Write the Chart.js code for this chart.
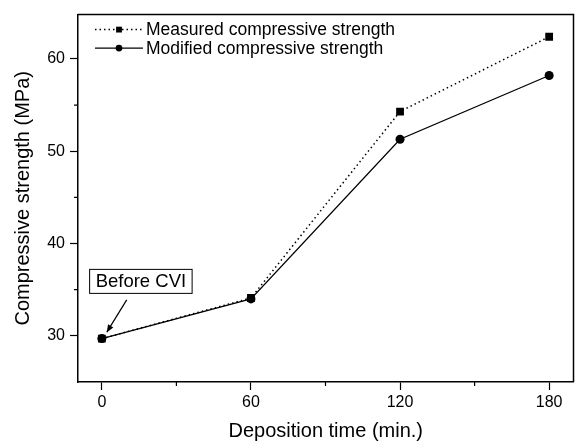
<!DOCTYPE html>
<html>
<head>
<meta charset="utf-8">
<script src="https://cdn.jsdelivr.net/npm/chart.js@4/dist/chart.umd.min.js"></script>
<style>
  html, body { margin: 0; padding: 0; background: #fff; }
  #wrap { width: 579px; height: 445px; }
</style>
</head>
<body>
<div id="wrap"><canvas id="chart" width="579" height="445"></canvas></div>
<script>
const times = [0, 60, 120, 180];
const measured = [29.7, 34.1, 54.3, 62.4];
const modified = [29.7, 34.0, 51.3, 58.2];
const xTicks = [0, 60, 120, 180];
const xMinorTicks = [30, 90, 150];
const yTicks = [30, 40, 50, 60];
const yMinorTicks = [35, 45, 55];
const seriesNames = ['Measured compressive strength', 'Modified compressive strength'];
const noteText = 'Before CVI';
const noteTarget = [0, 29.7];

const FONT = '"Liberation Sans", Arial, Helvetica, sans-serif';
Chart.defaults.font.family = FONT;
Chart.defaults.color = '#000';

const toPoints = ys => ys.map((y, i) => ({ x: times[i], y }));

// box around the plot + minor ticks
const framePlugin = {
  id: 'frame',
  afterDraw(chart) {
    const { ctx, chartArea: a, scales } = chart;
    ctx.save();
    ctx.strokeStyle = '#000';
    ctx.lineWidth = 1.5;
    ctx.beginPath();
    ctx.moveTo(a.left, a.top);
    ctx.lineTo(a.right, a.top);
    ctx.lineTo(a.right, a.bottom);
    ctx.stroke();
    ctx.lineWidth = 1.2;
    ctx.beginPath();
    xMinorTicks.forEach(v => {
      const x = scales.x.getPixelForValue(v);
      ctx.moveTo(x, a.bottom);
      ctx.lineTo(x, a.bottom + 4);
    });
    yMinorTicks.forEach(v => {
      const y = scales.y.getPixelForValue(v);
      ctx.moveTo(a.left - 4, y);
      ctx.lineTo(a.left, y);
    });
    ctx.stroke();
    ctx.restore();
  }
};

// legend inside the plot, top left
const legendPlugin = {
  id: 'innerLegend',
  afterDatasetsDraw(chart) {
    const { ctx, chartArea: a } = chart;
    ctx.save();
    chart.data.datasets.forEach((ds, i) => {
      const y = a.top + 15 + i * 18.5;
      const x0 = a.left + 17, x1 = x0 + 48;
      ctx.strokeStyle = '#000';
      ctx.fillStyle = '#000';
      ctx.lineWidth = ds.borderWidth;
      ctx.setLineDash(ds.borderDash || []);
      ctx.beginPath();
      ctx.moveTo(x0, y);
      ctx.lineTo(x1, y);
      ctx.stroke();
      ctx.setLineDash([]);
      Chart.helpers.drawPoint(ctx, { pointStyle: ds.pointStyle, radius: ds.pointRadius * 0.75, borderWidth: 0 }, (x0 + x1) / 2, y);
      ctx.font = '17.5px ' + FONT;
      ctx.textBaseline = 'middle';
      ctx.textAlign = 'left';
      ctx.fillText(ds.label, x1 + 3, y + 1);
    });
    ctx.restore();
  }
};

// "Before CVI" note with arrow
const notePlugin = {
  id: 'note',
  afterDatasetsDraw(chart) {
    const { ctx, scales } = chart;
    const px = v => scales.x.getPixelForValue(v);
    const py = v => scales.y.getPixelForValue(v);
    ctx.save();
    ctx.font = '18.5px ' + FONT;
    const w = ctx.measureText(noteText).width + 12;
    const h = 24;
    const cx = px(noteTarget[0] + 15.7), cy = py(noteTarget[1] + 6.2);
    ctx.fillStyle = '#fff';
    ctx.strokeStyle = '#000';
    ctx.lineWidth = 1;
    ctx.fillRect(cx - w / 2, cy - h / 2, w, h);
    ctx.strokeRect(cx - w / 2, cy - h / 2, w, h);
    ctx.fillStyle = '#000';
    ctx.textAlign = 'center';
    ctx.textBaseline = 'middle';
    ctx.fillText(noteText, cx, cy + 1);

    const sx = px(noteTarget[0] + 10), sy = py(noteTarget[1] + 4.2);
    const ex = px(noteTarget[0] + 2), ey = py(noteTarget[1] + 0.7);
    const ang = Math.atan2(ey - sy, ex - sx);
    ctx.lineWidth = 1.2;
    ctx.beginPath();
    ctx.moveTo(sx, sy);
    ctx.lineTo(ex, ey);
    ctx.stroke();
    ctx.beginPath();
    ctx.moveTo(ex, ey);
    ctx.lineTo(ex - 8 * Math.cos(ang - 0.4), ey - 8 * Math.sin(ang - 0.4));
    ctx.lineTo(ex - 8 * Math.cos(ang + 0.4), ey - 8 * Math.sin(ang + 0.4));
    ctx.closePath();
    ctx.fill();
    ctx.restore();
  }
};

new Chart(document.getElementById('chart'), {
  type: 'line',
  data: {
    datasets: [
      {
        label: seriesNames[0],
        data: toPoints(measured),
        borderColor: '#000',
        backgroundColor: '#000',
        borderWidth: 1.5,
        borderDash: [1.5, 3],
        pointStyle: 'rect',
        pointRadius: 5.5,
        pointBorderWidth: 0
      },
      {
        label: seriesNames[1],
        data: toPoints(modified),
        borderColor: '#000',
        backgroundColor: '#000',
        borderWidth: 1.3,
        pointStyle: 'circle',
        pointRadius: 4.5,
        pointBorderWidth: 0
      }
    ]
  },
  options: {
    responsive: false,
    animation: false,
    layout: { padding: { top: 11, right: -4, left: 0, bottom: 0 } },
    plugins: { legend: { display: false }, tooltip: { enabled: false } },
    scales: {
      x: {
        type: 'linear',
        min: -9.6,
        max: 189.8,
        afterBuildTicks: s => { s.ticks = xTicks.map(v => ({ value: v })); },
        afterFit: s => { s.height = 63; },
        grid: { drawOnChartArea: false, drawTicks: true, tickLength: 8, tickWidth: 1.2, tickColor: '#000' },
        border: { color: '#000', width: 1.5 },
        ticks: { color: '#000', font: { size: 16 }, padding: 3, maxRotation: 0 },
        title: { display: true, text: 'Deposition time (min.)', color: '#000', font: { size: 20 }, padding: { top: 0, bottom: 2 } }
      },
      y: {
        type: 'linear',
        min: 25,
        max: 64.8,
        afterBuildTicks: s => { s.ticks = yTicks.map(v => ({ value: v })); },
        afterFit: s => { s.width = 78; },
        grid: { drawOnChartArea: false, drawTicks: true, tickLength: 8, tickWidth: 1.2, tickColor: '#000' },
        border: { color: '#000', width: 1.5 },
        ticks: { color: '#000', font: { size: 16 }, padding: 5 },
        title: { display: true, text: 'Compressive strength (MPa)', color: '#000', font: { size: 20 }, padding: { top: 11, bottom: 0 } }
      }
    }
  },
  plugins: [framePlugin, legendPlugin, notePlugin]
});
</script>
</body>
</html>
